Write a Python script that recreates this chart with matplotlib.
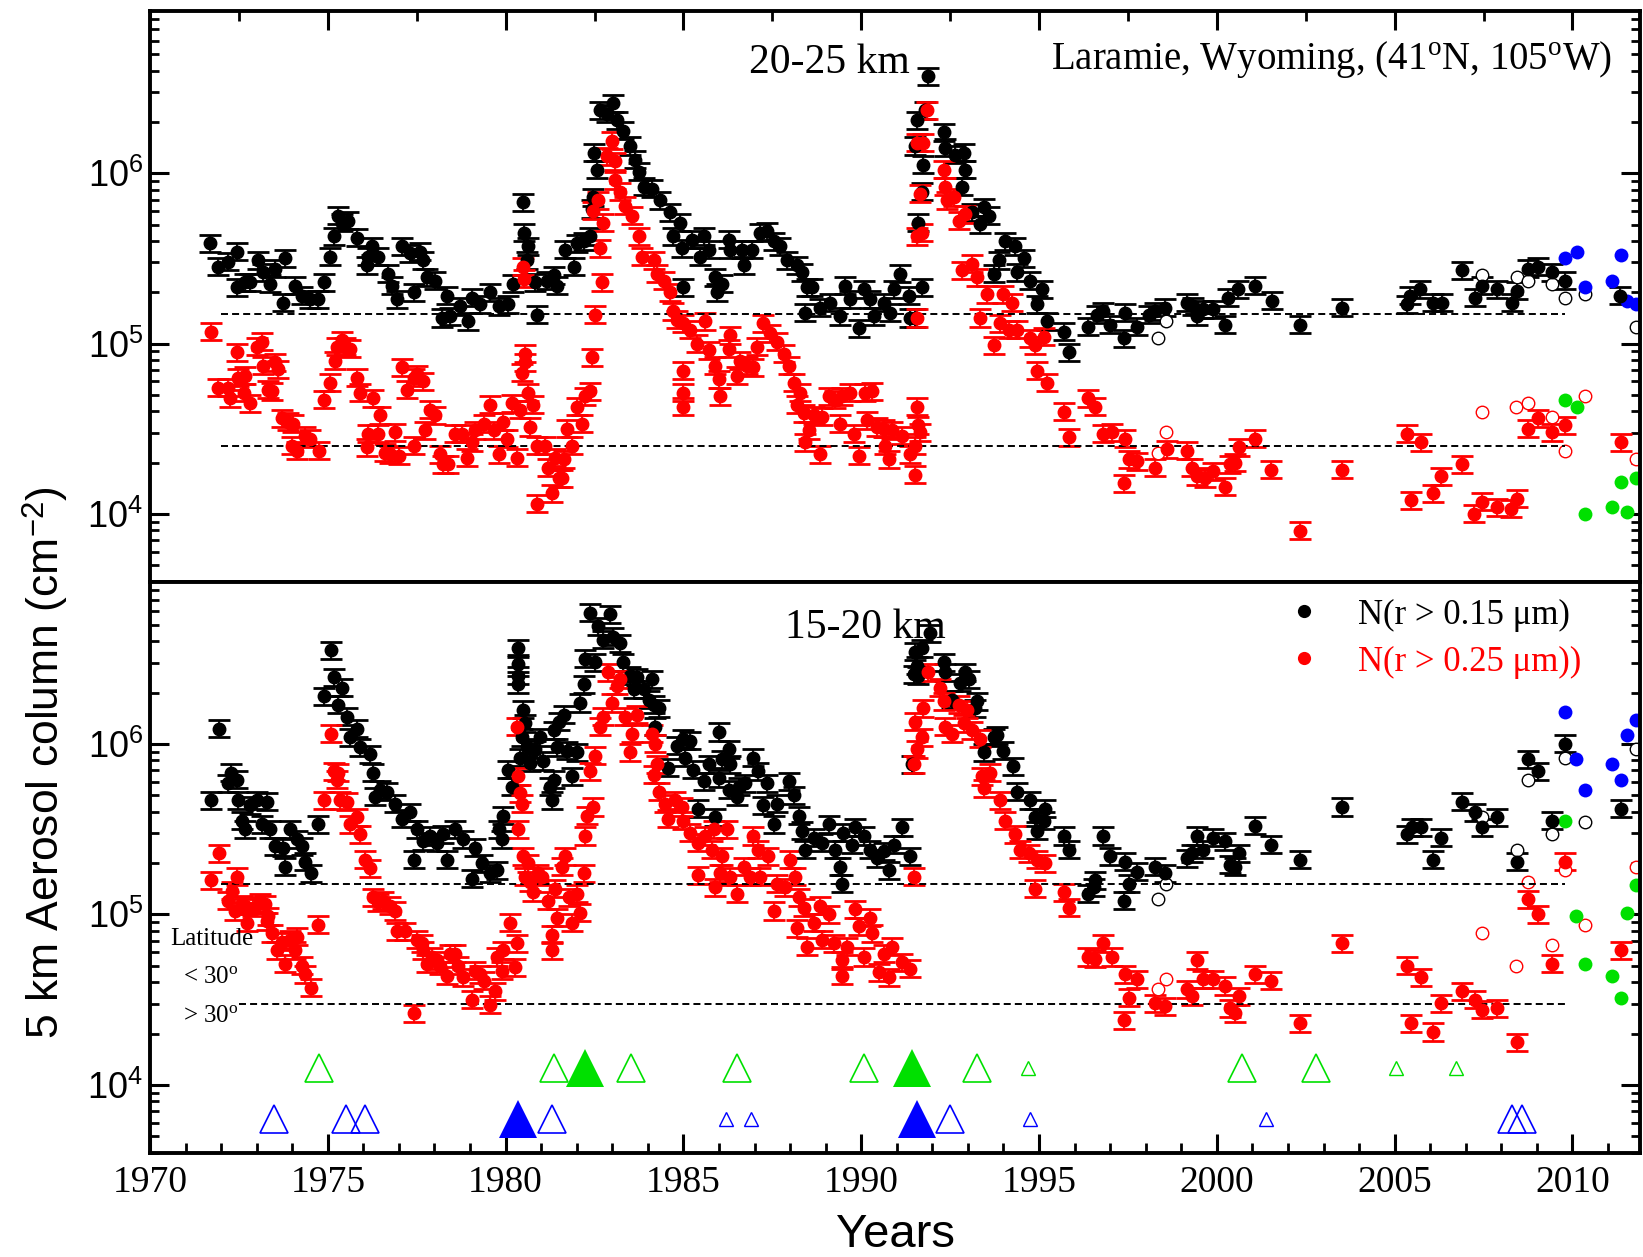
import numpy as np
import matplotlib as mpl
mpl.use("Agg")
import matplotlib.pyplot as plt
from matplotlib.lines import Line2D
from matplotlib.ticker import FuncFormatter, LogLocator, MultipleLocator, NullFormatter

plt.rcParams["font.family"] = "Liberation Serif"
plt.rcParams["mathtext.fontset"] = "custom"
plt.rcParams["mathtext.rm"] = "Liberation Serif"
plt.rcParams["mathtext.it"] = "Liberation Serif:italic"
plt.rcParams["mathtext.sf"] = "Liberation Sans"

# (decimal year, log10 of 5 km aerosol column in cm^-2)
# 20-25 km, N(r > 0.15 um)
top_n15 = [
    (1971.69, 5.59), (1971.92, 5.45), (1972.20, 5.48), (1972.44, 5.54), (1972.46, 5.33), (1972.67, 5.36), (1972.81, 5.36),
    (1973.05, 5.49), (1973.19, 5.42), (1973.38, 5.35), (1973.52, 5.44), (1973.75, 5.24), (1973.80, 5.50), (1974.08, 5.34),
    (1974.27, 5.28), (1974.50, 5.26), (1974.73, 5.26), (1974.90, 5.36), (1975.06, 5.51), (1975.16, 5.63), (1975.30, 5.75),
    (1975.39, 5.71), (1975.58, 5.72), (1975.81, 5.62), (1976.09, 5.46), (1976.14, 5.51), (1976.24, 5.57), (1976.42, 5.51),
    (1976.70, 5.41), (1976.80, 5.34), (1976.94, 5.26), (1977.08, 5.57), (1977.31, 5.53), (1977.41, 5.30), (1977.60, 5.54),
    (1977.69, 5.49), (1977.78, 5.39), (1978.02, 5.37), (1978.20, 5.15), (1978.35, 5.28), (1978.44, 5.16), (1978.72, 5.22),
    (1978.95, 5.13), (1979.05, 5.27), (1979.28, 5.23), (1979.56, 5.30), (1979.80, 5.22), (1980.08, 5.23), (1980.22, 5.35),
    (1980.50, 5.83), (1980.52, 5.65), (1980.64, 5.57), (1980.60, 5.49), (1980.83, 5.36), (1980.88, 5.17), (1981.16, 5.37),
    (1981.35, 5.40), (1981.44, 5.34), (1981.67, 5.55), (1981.91, 5.45), (1982.00, 5.59), (1982.19, 5.60), (1982.38, 5.63),
    (1982.42, 5.79), (1982.47, 5.86), (1982.49, 6.12), (1982.56, 6.02), (1982.66, 6.37), (1982.85, 6.35), (1983.03, 6.41),
    (1983.12, 6.31), (1983.31, 6.25), (1983.50, 6.16), (1983.64, 6.08), (1983.74, 6.01), (1983.88, 5.92),
    (1984.11, 5.91), (1984.35, 5.84), (1984.63, 5.77), (1984.91, 5.71), (1984.72, 5.63), (1984.95, 5.56), (1985.24, 5.61),
    (1985.47, 5.51), (1985.57, 5.63), (1985.71, 5.55), (1985.00, 5.33), (1985.89, 5.39), (1985.94, 5.30), (1986.08, 5.35),
    (1986.27, 5.61), (1986.32, 5.55), (1986.64, 5.55), (1986.69, 5.46), (1986.92, 5.55), (1987.16, 5.65), (1987.35, 5.66),
    (1987.54, 5.60), (1987.72, 5.57), (1987.91, 5.49), (1988.19, 5.46), (1988.33, 5.42), (1988.47, 5.33), (1988.61, 5.33),
    (1988.42, 5.18), (1988.85, 5.21), (1989.13, 5.24), (1989.41, 5.16), (1989.55, 5.34), (1989.69, 5.26), (1989.93, 5.09),
    (1990.07, 5.32), (1990.25, 5.26), (1990.35, 5.16), (1990.63, 5.24), (1990.82, 5.18), (1990.91, 5.32), (1991.10, 5.41),
    (1991.33, 5.28), (1991.38, 5.15), (1991.52, 5.15), (1991.71, 5.33),
    (1991.57, 6.31), (1991.52, 6.16), (1991.75, 6.05), (1991.71, 5.89), (1991.61, 5.71), (1991.80, 6.37), (1991.89, 6.57),
    (1992.32, 6.24), (1992.36, 6.15), (1992.64, 6.11), (1992.88, 6.12), (1992.93, 6.02), (1992.83, 5.92), (1993.11, 5.77),
    (1993.44, 5.80), (1993.35, 5.70), (1993.58, 5.75), (1993.72, 5.41), (1993.86, 5.49), (1994.05, 5.60), (1994.33, 5.57),
    (1994.57, 5.50), (1994.38, 5.42), (1994.75, 5.37), (1994.94, 5.23), (1995.08, 5.32), (1995.22, 5.13), (1995.69, 5.07),
    (1995.83, 4.95), (1996.39, 5.10), (1996.63, 5.17), (1996.81, 5.19), (1997.00, 5.11), (1997.38, 5.03), (1997.43, 5.18),
    (1997.75, 5.10), (1998.08, 5.17),
    (1998.26, 5.19), (1998.54, 5.21), (1999.15, 5.24), (1999.34, 5.22), (1999.43, 5.16), (1999.62, 5.20), (1999.90, 5.20),
    (2000.23, 5.11), (2000.32, 5.27), (2000.60, 5.32), (2001.07, 5.34), (2001.54, 5.25), (2002.34, 5.11), (2003.53, 5.21),
    (2005.34, 5.23), (2005.43, 5.28), (2005.71, 5.32), (2006.09, 5.24), (2006.32, 5.24), (2006.88, 5.43), (2007.26, 5.27),
    (2007.45, 5.34), (2007.87, 5.32), (2008.29, 5.24), (2008.43, 5.31), (2008.76, 5.44), (2009.04, 5.45), (2009.42, 5.42),
    (2009.79, 5.37), (2011.34, 5.28),
]

# 20-25 km, N(r > 0.25 um)
top_n25 = [
    (1971.71, 5.07), (1971.92, 4.74), (1972.20, 4.74), (1972.25, 4.68), (1972.46, 4.95), (1972.48, 4.80), (1972.63, 4.71),
    (1972.67, 4.81), (1972.81, 4.65), (1973.00, 4.98), (1973.14, 5.01), (1973.19, 4.87), (1973.33, 4.73), (1973.42, 4.72),
    (1973.52, 4.89), (1973.61, 4.85), (1973.70, 4.56), (1973.89, 4.54), (1974.03, 4.53), (1973.98, 4.40), (1974.13, 4.37),
    (1974.36, 4.46), (1974.50, 4.44), (1974.74, 4.37), (1974.89, 4.67), (1975.06, 4.77), (1975.20, 4.90), (1975.25, 4.98),
    (1975.39, 5.02), (1975.49, 4.98), (1975.63, 4.97), (1975.81, 4.80), (1975.91, 4.71), (1976.28, 4.68), (1976.47, 4.58),
    (1976.14, 4.47), (1976.09, 4.39), (1976.42, 4.47), (1976.61, 4.36), (1976.75, 4.35), (1976.89, 4.48), (1976.99, 4.34),
    (1977.08, 4.86), (1977.22, 4.73), (1977.41, 4.80), (1977.50, 4.82), (1977.69, 4.78), (1977.41, 4.40), (1977.74, 4.49),
    (1977.88, 4.61), (1978.02, 4.58), (1978.16, 4.35), (1978.25, 4.29), (1978.39, 4.29), (1978.58, 4.47), (1978.77, 4.47),
    (1978.91, 4.33), (1979.05, 4.42), (1979.14, 4.49), (1979.38, 4.53), (1979.56, 4.64), (1979.66, 4.49), (1979.80, 4.35),
    (1979.94, 4.54), (1980.03, 4.44), (1980.17, 4.65), (1980.31, 4.33), (1980.41, 4.61), (1980.45, 4.83), (1980.55, 4.94),
    (1980.55, 4.89), (1980.64, 4.71), (1980.78, 4.64), (1980.69, 4.51), (1980.88, 4.06), (1980.88, 4.40), (1981.11, 4.40),
    (1981.20, 4.27), (1981.30, 4.12), (1981.39, 4.33), (1981.49, 4.21), (1981.58, 4.21), (1981.63, 4.32), (1981.72, 4.50),
    (1981.86, 4.40), (1982.00, 4.63), (1982.14, 4.53), (1982.24, 4.69), (1982.38, 4.72), (1982.42, 4.92), (1982.71, 5.36),
    (1982.52, 5.17), (1982.66, 5.56), (1982.75, 5.71), (1982.47, 5.78), (1982.61, 5.84), (1982.85, 6.10), (1982.99, 6.19),
    (1983.08, 6.07), (1983.08, 5.96), (1983.22, 5.89), (1983.36, 5.81), (1983.55, 5.75), (1983.74, 5.63), (1983.83, 5.51),
    (1980.50, 5.45), (1980.52, 5.38),
    (1984.16, 5.49), (1984.25, 5.41), (1984.44, 5.37), (1984.63, 5.30), (1984.72, 5.19), (1984.81, 5.14), (1985.00, 5.12),
    (1985.19, 5.08), (1985.38, 5.00), (1985.61, 5.13), (1985.71, 4.96), (1985.00, 4.84), (1985.00, 4.71), (1985.00, 4.63),
    (1985.89, 4.87), (1985.99, 4.79), (1986.03, 4.69), (1986.32, 5.05), (1986.27, 4.97), (1986.50, 4.81), (1986.60, 4.90),
    (1986.78, 4.87), (1986.97, 4.86), (1987.07, 4.98), (1987.25, 5.12), (1987.44, 5.06), (1987.63, 5.01), (1987.82, 4.94),
    (1987.96, 4.87), (1988.10, 4.77), (1988.28, 4.71), (1988.19, 4.64), (1988.38, 4.59), (1988.66, 4.58), (1988.89, 4.57),
    (1988.52, 4.49), (1988.42, 4.42), (1988.85, 4.35), (1989.08, 4.69), (1989.27, 4.67), (1989.46, 4.69), (1989.41, 4.53),
    (1989.69, 4.71), (1989.79, 4.47), (1989.93, 4.34), (1990.11, 4.71), (1990.30, 4.72), (1990.16, 4.55), (1990.44, 4.51),
    (1990.63, 4.50), (1990.77, 4.32), (1990.68, 4.40), (1990.86, 4.49), (1991.14, 4.46), (1991.38, 4.35), (1991.52, 4.23),
    (1991.57, 4.63), (1991.61, 4.52), (1991.66, 4.48), (1991.52, 4.40),
    (1991.57, 5.15), (1991.71, 5.65), (1991.57, 5.63), (1991.66, 5.88), (1991.75, 6.18), (1991.57, 6.18), (1991.85, 6.37),
    (1992.32, 6.02), (1992.36, 5.92), (1992.41, 5.84), (1992.60, 5.86), (1992.74, 5.72), (1992.93, 5.76), (1992.83, 5.43),
    (1993.11, 5.47), (1993.25, 5.39), (1993.53, 5.29), (1993.35, 5.15), (1993.72, 4.99), (1994.00, 5.29), (1993.91, 5.12),
    (1994.24, 5.24), (1994.15, 5.08), (1994.38, 5.08), (1994.75, 5.03), (1994.89, 4.99), (1995.13, 5.04), (1994.94, 4.84),
    (1995.22, 4.77), (1995.69, 4.60), (1995.83, 4.45), (1996.39, 4.68), (1996.58, 4.63), (1996.81, 4.47), (1997.05, 4.48),
    (1997.43, 4.44), (1997.52, 4.32), (1997.75, 4.31), (1997.38, 4.18),
    (1998.26, 4.27), (1998.59, 4.38), (1999.15, 4.37), (1999.29, 4.27), (1999.43, 4.22), (1999.66, 4.21), (1999.90, 4.25),
    (2000.23, 4.16), (2000.37, 4.29), (2000.51, 4.30), (2000.62, 4.39), (2001.07, 4.44), (2001.52, 4.26), (2002.34, 3.90),
    (2003.53, 4.26), (2005.34, 4.47), (2005.73, 4.42), (2005.46, 4.08), (2006.07, 4.12), (2006.30, 4.22), (2006.88, 4.29),
    (2007.24, 4.00), (2007.45, 4.07), (2007.87, 4.04), (2008.27, 4.03), (2008.43, 4.09), (2008.76, 4.50), (2009.04, 4.56),
    (2009.42, 4.48), (2009.79, 4.52), (2011.36, 4.42),
]

top_n15_open = [(1998.35, 5.03), (1998.57, 5.13), (2007.45, 5.40), (2008.43, 5.39), (2008.76, 5.37),
                (2009.42, 5.35), (2009.79, 5.27), (2010.35, 5.29), (2011.79, 5.10)]
top_n25_open = [(1998.35, 4.36), (1998.57, 4.48), (2007.45, 4.60), (2008.41, 4.63), (2008.76, 4.65),
                (2009.42, 4.57), (2009.79, 4.37), (2010.35, 4.69), (2011.79, 4.32)]
top_blue = [(2009.79, 5.50), (2010.12, 5.54), (2010.35, 5.33), (2011.10, 5.37), (2011.36, 5.52),
            (2011.53, 5.25), (2011.79, 5.23)]
top_green = [(2009.79, 4.67), (2010.12, 4.63), (2010.35, 4.00), (2011.10, 4.04), (2011.36, 4.19),
             (2011.53, 4.01), (2011.79, 4.21)]

# 15-20 km, N(r > 0.15 um)
bot_n15 = [
    (1971.71, 5.67), (1971.94, 6.09), (1972.18, 5.77), (1972.27, 5.83), (1972.46, 5.79), (1972.48, 5.67), (1972.58, 5.55),
    (1972.67, 5.50), (1972.81, 5.64), (1973.00, 5.67), (1973.14, 5.53), (1973.28, 5.66), (1973.38, 5.50), (1973.52, 5.40),
    (1973.75, 5.39), (1973.80, 5.28), (1973.94, 5.50), (1974.13, 5.44), (1974.27, 5.40), (1974.36, 5.31), (1974.52, 5.24),
    (1974.73, 5.53), (1974.88, 6.28), (1975.08, 6.55), (1975.18, 6.39), (1975.39, 6.33), (1975.30, 6.23), (1975.53, 6.16),
    (1975.63, 6.04), (1975.81, 6.09), (1975.91, 5.98), (1976.19, 5.94), (1976.26, 5.83), (1976.33, 5.69), (1976.47, 5.73),
    (1976.66, 5.72), (1976.89, 5.65), (1977.08, 5.56), (1977.31, 5.60), (1977.41, 5.32), (1977.50, 5.50), (1977.69, 5.43),
    (1977.88, 5.46), (1978.06, 5.42), (1978.35, 5.32), (1978.25, 5.47), (1978.58, 5.50), (1978.81, 5.44), (1979.05, 5.21),
    (1979.14, 5.39), (1979.33, 5.30), (1979.56, 5.24), (1979.75, 5.26), (1979.80, 5.50), (1979.89, 5.44), (1979.94, 5.58),
    (1980.08, 5.85), (1980.17, 5.75), (1980.36, 6.56), (1980.36, 6.47), (1980.36, 6.40), (1980.36, 6.35), (1980.50, 6.20),
    (1980.55, 6.12), (1980.45, 6.04), (1980.60, 5.98), (1980.41, 5.92), (1980.69, 5.89), (1980.83, 5.97), (1980.97, 6.04),
    (1981.06, 5.90), (1981.25, 5.75), (1981.30, 5.67), (1981.35, 5.79), (1981.35, 6.08), (1981.49, 6.13), (1981.63, 6.17),
    (1981.44, 5.98), (1981.72, 5.96), (1981.86, 5.81), (1982.00, 5.95), (1982.10, 6.24), (1982.19, 6.35), (1982.24, 6.50),
    (1982.38, 6.77), (1982.52, 6.48), (1982.61, 6.69), (1982.75, 6.61), (1982.94, 6.76), (1983.03, 6.63), (1983.22, 6.59),
    (1983.31, 6.48), (1983.50, 6.40), (1983.60, 6.32), (1983.69, 6.39), (1983.88, 6.32), (1984.02, 6.26),
    (1984.11, 6.38), (1984.16, 6.23), (1984.30, 6.21), (1984.21, 6.10), (1984.58, 5.86), (1984.81, 5.99), (1985.00, 6.03),
    (1985.05, 5.92), (1985.19, 6.02), (1985.28, 5.85), (1985.42, 5.62), (1985.57, 5.78), (1985.71, 5.88), (1985.89, 5.57),
    (1985.99, 6.07), (1985.99, 5.80), (1986.08, 5.91), (1986.27, 5.97), (1986.32, 5.88), (1986.27, 5.73), (1986.50, 5.69),
    (1986.55, 5.75), (1986.74, 5.77), (1986.97, 5.92), (1987.11, 5.84), (1987.25, 5.64), (1987.35, 5.77), (1987.54, 5.53),
    (1987.63, 5.65), (1987.96, 5.78), (1988.10, 5.70), (1988.24, 5.58), (1988.33, 5.49), (1988.42, 5.38), (1988.66, 5.45),
    (1988.89, 5.42), (1989.08, 5.53), (1989.27, 5.38), (1989.41, 5.28), (1989.46, 5.18), (1989.50, 5.48), (1989.74, 5.41),
    (1989.83, 5.51), (1990.07, 5.46), (1990.25, 5.38), (1990.44, 5.33), (1990.63, 5.37), (1990.77, 5.26), (1990.91, 5.41),
    (1991.14, 5.51), (1991.38, 5.34),
    (1991.43, 5.88), (1991.47, 6.41), (1991.52, 6.54), (1991.57, 6.46), (1991.61, 6.40), (1991.71, 6.56), (1991.94, 6.65),
    (1992.32, 6.48), (1992.36, 6.42), (1992.55, 6.26), (1992.78, 6.36), (1992.93, 6.42), (1993.02, 6.38), (1993.25, 6.25),
    (1993.21, 6.21), (1993.44, 5.95), (1993.72, 6.04), (1993.82, 6.05), (1994.00, 5.96), (1994.28, 5.87), (1994.38, 5.72),
    (1994.75, 5.67), (1994.89, 5.57), (1994.94, 5.49), (1995.17, 5.62), (1995.13, 5.55), (1995.69, 5.46), (1995.83, 5.38),
    (1996.39, 5.12), (1996.58, 5.20), (1996.54, 5.16), (1996.81, 5.46), (1997.00, 5.34), (1997.43, 5.31), (1997.52, 5.18),
    (1997.38, 5.08), (1997.75, 5.25),
    (1998.26, 5.28), (1998.54, 5.24), (1999.15, 5.33), (1999.29, 5.36), (1999.43, 5.46), (1999.62, 5.38), (1999.90, 5.45),
    (2000.23, 5.43), (2000.37, 5.29), (2000.51, 5.28), (2000.62, 5.36), (2001.07, 5.52), (2001.52, 5.41), (2002.34, 5.32),
    (2003.53, 5.63), (2005.34, 5.47), (2005.48, 5.51), (2005.73, 5.51), (2006.07, 5.32), (2006.30, 5.45), (2006.88, 5.66),
    (2007.26, 5.60), (2007.45, 5.51), (2007.87, 5.57), (2008.43, 5.31), (2008.76, 5.91), (2009.04, 5.84), (2009.42, 5.55),
    (2009.79, 6.00), (2011.36, 5.62),
]

# 15-20 km, N(r > 0.25 um)
bot_n25 = [
    (1971.71, 5.20), (1971.94, 5.36), (1972.18, 5.08), (1972.30, 5.14), (1972.46, 5.22), (1972.39, 5.02), (1972.58, 5.06),
    (1972.72, 4.95), (1972.67, 5.05), (1972.91, 5.04), (1973.09, 5.07), (1973.23, 5.06), (1973.33, 4.99), (1973.28, 4.96),
    (1973.42, 4.89), (1973.56, 4.79), (1973.70, 4.84), (1973.80, 4.71), (1973.94, 4.85), (1974.08, 4.79), (1974.13, 4.87),
    (1974.27, 4.70), (1974.36, 4.65), (1974.52, 4.57), (1974.73, 4.94), (1974.88, 5.67), (1975.08, 6.06), (1975.16, 5.84),
    (1975.30, 5.83), (1975.25, 5.79), (1975.34, 5.67), (1975.53, 5.66), (1975.61, 5.53), (1975.81, 5.57), (1975.91, 5.47),
    (1976.05, 5.32), (1976.19, 5.27), (1976.28, 5.10), (1976.42, 5.07), (1976.56, 5.08), (1976.75, 5.05), (1976.89, 5.02),
    (1976.94, 4.90), (1977.17, 4.90), (1977.41, 4.42), (1977.50, 4.85), (1977.64, 4.83), (1977.69, 4.79), (1977.78, 4.71),
    (1977.92, 4.75), (1978.06, 4.73), (1978.16, 4.70), (1978.35, 4.64), (1978.44, 4.77), (1978.58, 4.77), (1978.67, 4.70),
    (1978.81, 4.63), (1979.05, 4.50), (1979.14, 4.67), (1979.28, 4.65), (1979.38, 4.61), (1979.56, 4.47), (1979.70, 4.55),
    (1979.75, 4.75), (1979.89, 4.67), (1979.94, 4.79), (1980.13, 4.95), (1980.27, 4.69), (1980.31, 4.83), (1980.36, 5.50),
    (1980.36, 5.81), (1980.31, 6.10), (1980.41, 5.71), (1980.45, 5.65), (1980.50, 5.34), (1980.55, 5.22), (1980.64, 5.30),
    (1980.69, 5.19), (1980.78, 5.13), (1980.92, 5.24), (1981.02, 5.22), (1981.20, 5.08), (1981.30, 4.88), (1981.30, 4.79),
    (1981.39, 5.15), (1981.44, 4.98), (1981.58, 5.28), (1981.67, 5.34), (1981.77, 5.10), (1981.86, 4.95), (1982.00, 5.12),
    (1982.10, 5.01), (1982.19, 5.24), (1982.24, 5.46), (1982.28, 5.58), (1982.47, 5.63), (1982.38, 5.84), (1982.52, 5.93),
    (1982.66, 6.10), (1982.75, 6.16), (1982.89, 6.42), (1982.99, 6.24), (1983.13, 6.34), (1983.22, 6.38), (1983.36, 6.16),
    (1983.50, 5.95), (1983.55, 6.06), (1983.69, 6.17),
    (1984.11, 6.06), (1984.21, 6.00), (1984.25, 5.88), (1984.16, 5.82), (1984.30, 5.72), (1984.49, 5.65), (1984.58, 5.56),
    (1984.77, 5.67), (1984.96, 5.63), (1985.00, 5.55), (1985.19, 5.48), (1985.42, 5.42), (1985.42, 5.23), (1985.61, 5.46),
    (1985.85, 5.50), (1985.80, 5.38), (1985.89, 5.16), (1986.08, 5.34), (1986.22, 5.50), (1986.03, 5.24), (1986.32, 5.22),
    (1986.50, 5.12), (1986.69, 5.28), (1986.97, 5.46), (1987.11, 5.38), (1986.88, 5.22), (1987.16, 5.22), (1987.39, 5.34),
    (1987.54, 5.02), (1987.63, 5.18), (1987.86, 5.16), (1988.00, 5.32), (1988.14, 5.22), (1988.24, 5.10), (1988.38, 5.04),
    (1988.19, 4.92), (1988.47, 4.81), (1988.66, 4.95), (1988.85, 5.05), (1989.08, 5.00), (1988.89, 4.85), (1989.22, 4.83),
    (1989.46, 4.73), (1989.46, 4.64), (1989.60, 4.81), (1989.83, 5.03), (1989.93, 4.93), (1990.07, 4.75), (1990.25, 4.98),
    (1990.30, 4.89), (1990.49, 4.66), (1990.63, 4.77), (1990.77, 4.63), (1990.86, 4.81), (1991.14, 4.72), (1991.38, 4.68),
    (1991.47, 5.22),
    (1991.47, 5.88), (1991.57, 5.97), (1991.52, 6.13), (1991.71, 6.04), (1991.75, 6.21), (1991.89, 6.42), (1992.22, 6.33),
    (1992.32, 6.25), (1992.36, 6.10), (1992.55, 6.06), (1992.74, 6.23), (1992.88, 6.12), (1992.97, 6.20), (1993.11, 6.08),
    (1993.35, 6.03), (1993.39, 5.81), (1993.44, 5.74), (1993.63, 5.83), (1993.91, 5.67), (1994.05, 5.55), (1994.33, 5.47),
    (1994.47, 5.38), (1994.71, 5.36), (1994.94, 5.32), (1995.17, 5.30), (1994.89, 5.15), (1995.69, 5.13), (1995.83, 5.04),
    (1996.39, 4.75), (1996.58, 4.74), (1996.81, 4.83), (1997.05, 4.75), (1997.43, 4.65), (1997.75, 4.62), (1997.52, 4.51),
    (1997.38, 4.38),
    (1998.26, 4.48), (1998.54, 4.46), (1999.15, 4.56), (1999.29, 4.52), (1999.43, 4.73), (1999.62, 4.62), (1999.90, 4.62),
    (2000.23, 4.58), (2000.37, 4.45), (2000.51, 4.42), (2000.62, 4.52), (2001.07, 4.65), (2001.52, 4.61), (2002.34, 4.36),
    (2003.53, 4.83), (2005.34, 4.70), (2005.73, 4.63), (2005.46, 4.36), (2006.07, 4.31), (2006.30, 4.48), (2006.88, 4.55),
    (2007.26, 4.50), (2007.45, 4.44), (2007.87, 4.45), (2008.43, 4.25), (2008.76, 5.09), (2009.04, 5.00), (2009.42, 4.71),
    (2009.79, 5.31), (2011.36, 4.79),
]

bot_n15_open = [(1998.35, 5.09), (1998.57, 5.18), (2007.45, 5.57), (2008.43, 5.38), (2008.76, 5.79),
                (2009.42, 5.47), (2009.79, 5.92), (2010.35, 5.54), (2011.79, 5.97)]
bot_n25_open = [(1998.35, 4.56), (1998.57, 4.62), (2007.45, 4.89), (2008.41, 4.70), (2008.76, 5.19),
                (2009.42, 4.82), (2009.79, 5.26), (2010.35, 4.94), (2011.79, 5.28)]
bot_blue = [(2009.79, 6.19), (2010.10, 5.91), (2010.35, 5.73), (2011.10, 5.88), (2011.36, 5.79),
            (2011.53, 6.05), (2011.79, 6.14)]
bot_green = [(2009.79, 5.55), (2010.10, 4.99), (2010.35, 4.71), (2011.10, 4.64), (2011.36, 4.51),
             (2011.53, 5.01), (2011.79, 5.17)]

# volcanic eruptions (green: latitude < 30, blue: latitude > 30)
green_big = [1974.75, 1981.35, 1983.52, 1986.52, 1990.08, 1993.26, 2000.71, 2002.80]
green_major = [1982.23, 1991.43]
green_small = [1994.70, 2005.03, 2006.72]
blue_big = [1973.50, 1975.50, 1976.05, 1981.30, 1992.49, 2008.30, 2008.57]
blue_major = [1980.36, 1991.57]
blue_small = [1986.20, 1986.90, 1994.75, 2001.37]
low_lat_level = 1.25e4
high_lat_level = 6.3e3

top_background = [1.5e5, 2.5e4]
bot_background = [1.5e5, 3.0e4]

ERR_DEX = 0.05


def unpack(points):
    x, lg = np.array(points).T
    return x, 10.0 ** lg


def draw_panel(ax, n15, n25, n15_open, n25_open, blue, green):
    for pts, col in ((n15, "black"), (n25, "red")):
        x, y = unpack(pts)
        err = [y * (1 - 10 ** -ERR_DEX), y * (10 ** ERR_DEX - 1)]
        # no marker edge kwarg here: errorbar would hand it to the caps as well
        ax.errorbar(x, y, yerr=err, fmt="o", color=col, ms=9,
                    elinewidth=1.3, capsize=8, capthick=2.0)
    for pts, col in ((n15_open, "black"), (n25_open, "red")):
        x, y = unpack(pts)
        ax.plot(x, y, "o", mfc="white", mec=col, mew=1.0, ms=9, ls="none")
    for pts, col in ((blue, "#0000ff"), (green, "#00e000")):
        x, y = unpack(pts)
        ax.plot(x, y, "o", color=col, mew=0, ms=10, ls="none")


fig = plt.figure(figsize=(16.43, 12.57), dpi=100)
ax_top = fig.add_axes([0.0913, 0.5370, 0.9069, 0.4539])
ax_bot = fig.add_axes([0.0913, 0.0827, 0.9069, 0.4543])

draw_panel(ax_top, top_n15, top_n25, top_n15_open, top_n25_open, top_blue, top_green)
draw_panel(ax_bot, bot_n15, bot_n25, bot_n15_open, bot_n25_open, bot_blue, bot_green)

dash = dict(colors="black", linestyles=(0, (3.6, 2.1)), linewidth=1.4)
ax_top.hlines(top_background, 1972.0, 2009.8, **dash)
ax_bot.hlines(bot_background[0], 1972.0, 2009.8, **dash)
ax_bot.hlines(bot_background[1], 1972.5, 2009.8, **dash)

# eruption markers
for years, col, level in ((green_big, "#00e000", low_lat_level), (blue_big, "#0000ff", high_lat_level)):
    ax_bot.plot(years, [level] * len(years), "^", mfc="none", mec=col, mew=1.2, ms=20, ls="none")
for years, col, level in ((green_small, "#00e000", low_lat_level), (blue_small, "#0000ff", high_lat_level)):
    ax_bot.plot(years, [level] * len(years), "^", mfc="none", mec=col, mew=1.0, ms=10.5, ls="none")
for years, col, level in ((green_major, "#00e000", low_lat_level), (blue_major, "#0000ff", high_lat_level)):
    ax_bot.plot(years, [level] * len(years), "^", color=col, mew=0, ms=27, ls="none")

for ax in (ax_top, ax_bot):
    ax.set_yscale("log")
    ax.set_ylim(10 ** 3.6, 10 ** 6.95)
    ax.set_xlim(1970, 2011.9)
    ax.xaxis.set_major_locator(MultipleLocator(5))
    ax.yaxis.set_major_locator(LogLocator(10))
    ax.yaxis.set_minor_locator(LogLocator(10, subs=np.arange(2, 10)))
    ax.yaxis.set_minor_formatter(NullFormatter())
    ax.yaxis.set_major_formatter(FuncFormatter(lambda v, p: r"$\mathsf{10^{%d}}$" % round(np.log10(v))))
    ax.tick_params(axis="y", which="both", direction="in", left=True, right=True, labelsize=26, pad=5)
    ax.tick_params(which="major", length=13.5, width=2.2)
    ax.tick_params(which="minor", length=6.5, width=2.0)
    for s in ax.spines.values():
        s.set_linewidth(2.8)

ax_top.xaxis.set_minor_locator(MultipleLocator(2.5))
ax_top.tick_params(axis="x", which="both", direction="in", top=True, bottom=False, labelbottom=False)
ax_top.tick_params(axis="x", which="minor", length=7)
ax_bot.xaxis.set_minor_locator(MultipleLocator(1))
ax_bot.tick_params(axis="x", which="both", direction="in", top=False, bottom=True, labelsize=27, pad=9)
ax_bot.tick_params(axis="x", which="minor", length=7)

ax_top.text(0.456, 0.892, "20-25 km", transform=ax_top.transAxes, ha="center", va="baseline", fontsize=30)
ax_top.text(0.981, 0.899, r"Laramie, Wyoming, (41$^{\rm o}$N, 105$^{\rm o}$W)", transform=ax_top.transAxes,
            ha="right", va="baseline", fontsize=28)
ax_bot.text(0.48, 0.902, "15-20 km", transform=ax_bot.transAxes, ha="center", va="baseline", fontsize=30)
ax_bot.text(0.0134, 0.364, "Latitude", transform=ax_bot.transAxes, ha="left", va="baseline", fontsize=18)
ax_bot.text(0.022, 0.298, r"< 30$^{\rm o}$", transform=ax_bot.transAxes, ha="left", va="baseline", fontsize=18)
ax_bot.text(0.022, 0.229, r"> 30$^{\rm o}$", transform=ax_bot.transAxes, ha="left", va="baseline", fontsize=18)

handles = [Line2D([], [], ls="none", marker="o", color="black", ms=9.5, mew=0),
           Line2D([], [], ls="none", marker="o", color="red", ms=9.5, mew=0)]
ax_bot.legend(handles, ["N(r > 0.15 μm)", "N(r > 0.25 μm))"], loc="upper left",
              bbox_to_anchor=(0.7628, 0.971), frameon=False, fontsize=25, handlelength=1.0,
              handletextpad=1.05, labelspacing=0.4, borderpad=0, borderaxespad=0,
              labelcolor=["black", "red"])

fig.text(0.0274, 0.393, r"5 km Aerosol column (cm$^{\mathsf{-2}}$)", rotation=90, ha="center", va="center",
         fontsize=32, family="Liberation Sans")
fig.text(0.0913 + 0.9069 / 2, 0.008, "Years", ha="center", va="baseline", fontsize=34, family="Liberation Sans")

fig.savefig("out.png", dpi=100)
